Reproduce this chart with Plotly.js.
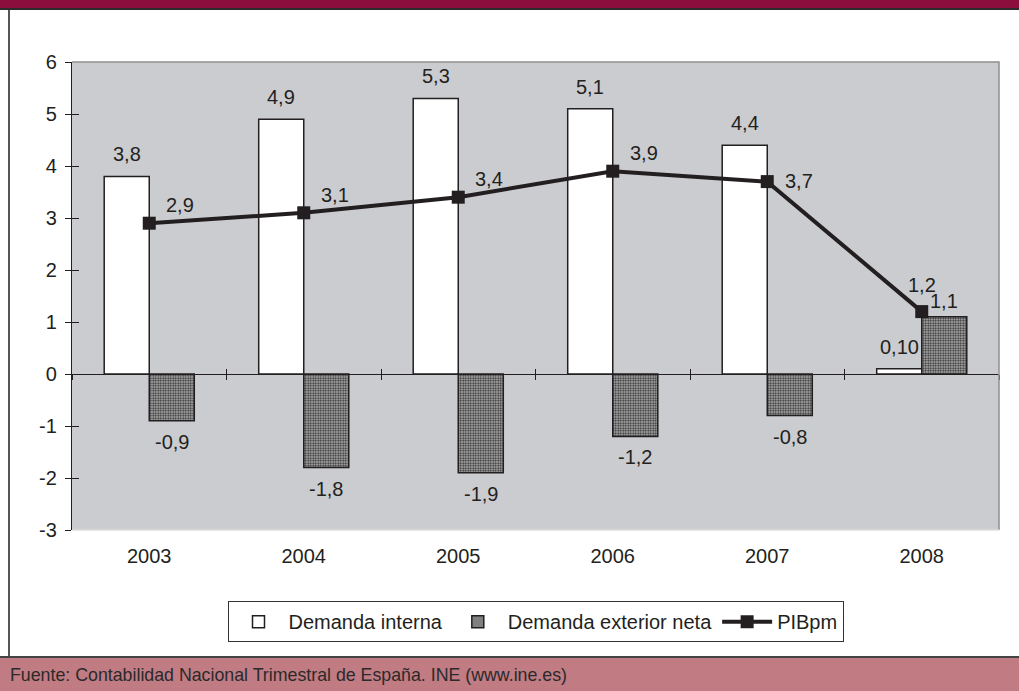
<!DOCTYPE html>
<html>
<head>
<meta charset="utf-8">
<script src="https://cdn.plot.ly/plotly-3.0.1.min.js"></script>
<style>
  html, body { margin: 0; padding: 0; background: #fff; }
  #wrap { position: relative; width: 1019px; height: 691px; overflow: hidden; }
  #chart { position: absolute; left: 0; top: 0; width: 1019px; height: 691px; }
  #topband { position: absolute; left: 0; top: 0; width: 1019px; height: 8px; background: #8c0e3c; border-bottom: 2px solid #2b2b2b; }
  #leftline { position: absolute; left: 8px; top: 10px; width: 2px; height: 647px; background: #555; }
  #footer { position: absolute; left: 0; top: 656px; width: 1019px; height: 35px; background: #c17b83; border-top: 2px solid #444; box-sizing: border-box; }
  #foottext { position: absolute; left: 10px; top: 6px; white-space: nowrap; transform-origin: 0 0;
            font-family: "Liberation Sans", Arial, sans-serif; font-size: 19px; color: #2a2a2a; }
</style>
</head>
<body>
<div id="wrap">
  <div id="chart"></div>
  <div id="topband"></div>
  <div id="leftline"></div>
  <div id="footer"><span id="foottext">Fuente: Contabilidad Nacional Trimestral de España. INE (www.ine.es)</span></div>
</div>
<script>
// ---- data ----
const years = ['2003', '2004', '2005', '2006', '2007', '2008'];
const demandaInterna = [3.8, 4.9, 5.3, 5.1, 4.4, 0.10];
const demandaInternaLabels = ['3,8', '4,9', '5,3', '5,1', '4,4', '0,10'];
const demandaExterior = [-0.9, -1.8, -1.9, -1.2, -0.8, 1.1];
const demandaExteriorLabels = ['-0,9', '-1,8', '-1,9', '-1,2', '-0,8', '1,1'];
const pib = [2.9, 3.1, 3.4, 3.9, 3.7, 1.2];
const pibLabels = ['2,9', '3,1', '3,4', '3,9', '3,7', '1,2'];
const yTicks = [-3, -2, -1, 0, 1, 2, 3, 4, 5, 6];

// ---- styling (label offsets in px) ----
const pibLabelShift = [[31, -18], [31, -18], [31, -18], [31, -18], [32, -1], [0, -27]];
const ink = '#231f20';
const font = 'Liberation Sans';
const barHalf = 22.5;

const traces = [
  {
    type: 'bar', name: 'Demanda interna', x: years, y: demandaInterna,
    marker: { color: '#ffffff', line: { color: ink, width: 1.5 } },
    hoverinfo: 'skip'
  },
  {
    type: 'bar', name: 'Demanda exterior neta', x: years, y: demandaExterior,
    marker: { color: '#333333', line: { color: ink, width: 1.5 },
              pattern: { shape: '.', bgcolor: '#bdbdbd', fgcolor: '#333333', size: 2.5, solidity: 0.5, fillmode: 'replace' } },
    hoverinfo: 'skip'
  },
  {
    type: 'scatter', mode: 'lines+markers', name: 'PIBpm', x: years, y: pib,
    line: { color: ink, width: 4 },
    marker: { symbol: 'square', size: 13, color: ink },
    hoverinfo: 'skip'
  },
  { type: 'scatter', x: [], y: [], xaxis: 'x2', yaxis: 'y', showlegend: false, hoverinfo: 'skip' },
  { type: 'scatter', x: [], y: [], xaxis: 'x3', yaxis: 'y', showlegend: false, hoverinfo: 'skip' },
  { type: 'scatter', x: [], y: [], xaxis: 'x', yaxis: 'y2', showlegend: false, hoverinfo: 'skip' }
];

const annotations = [];
years.forEach((yr, i) => {
  const v1 = demandaInterna[i];
  annotations.push({ x: i, y: v1, xref: 'x', yref: 'y', text: demandaInternaLabels[i], showarrow: false,
    xshift: -barHalf, yshift: v1 >= 0 ? 22 : -22, font: { family: font, size: 20, color: ink } });
  const v2 = demandaExterior[i];
  annotations.push({ x: i, y: v2, xref: 'x', yref: 'y', text: demandaExteriorLabels[i], showarrow: false,
    xshift: barHalf, yshift: v2 >= 0 ? 16 : -21, font: { family: font, size: 20, color: ink } });
  annotations.push({ x: i, y: pib[i], xref: 'x', yref: 'y', text: pibLabels[i], showarrow: false,
    xshift: pibLabelShift[i][0], yshift: -pibLabelShift[i][1], font: { family: font, size: 20, color: ink } });
});

const layout = {
  width: 1019, height: 691,
  margin: { l: 72, r: 20, t: 62, b: 161, pad: 0 },
  paper_bgcolor: 'rgba(0,0,0,0)',
  plot_bgcolor: '#cbcccf',
  barmode: 'group', bargap: 0.417, bargroupgap: 0,
  showlegend: true,
  legend: {
    orientation: 'h', x: 0.5, xanchor: 'center', y: -0.152, yanchor: 'top',
    bordercolor: '#333', borderwidth: 1, bgcolor: '#ffffff',
    font: { family: font, size: 20, color: ink }, itemwidth: 50, tracegroupgap: 0
  },
  xaxis: {
    type: 'category', range: [-0.5, 5.5], showline: false, showgrid: false, zeroline: false,
    ticks: 'outside', ticklen: 8, tickcolor: 'rgba(0,0,0,0)',
    tickfont: { family: font, size: 20, color: ink }, fixedrange: true
  },
  xaxis2: {
    overlaying: 'x', anchor: 'free', position: 1 / 3, range: [-0.5, 5.5],
    tickvals: [-0.5, 0.5, 1.5, 2.5, 3.5, 4.5, 5.5], showticklabels: false,
    ticks: 'outside', ticklen: 5, tickwidth: 1, tickcolor: ink,
    showline: true, linecolor: ink, linewidth: 1, showgrid: false, zeroline: false
  },
  xaxis3: {
    overlaying: 'x', anchor: 'free', position: 1 / 3, side: 'bottom', range: [-0.5, 5.5],
    tickvals: [-0.5, 0.5, 1.5, 2.5, 3.5, 4.5, 5.5], showticklabels: false,
    ticks: 'inside', ticklen: 5, tickwidth: 1, tickcolor: ink,
    showline: false, showgrid: false, zeroline: false
  },
  yaxis: {
    range: [-3, 6], tickvals: yTicks, ticktext: yTicks.map(String),
    showline: true, linecolor: ink, linewidth: 1.2,
    ticks: 'outside', ticklen: 6, tickcolor: ink, tickwidth: 1, ticklabelstandoff: 4,
    showgrid: false, zeroline: false,
    tickfont: { family: font, size: 20, color: ink }, fixedrange: true
  },
  yaxis2: {
    overlaying: 'y', anchor: 'x', range: [-3, 6], tickvals: yTicks, showticklabels: false,
    ticks: 'inside', ticklen: 7, tickcolor: ink, tickwidth: 1,
    showline: false, showgrid: false, zeroline: false
  },
  shapes: [
    { type: 'path', xref: 'paper', yref: 'paper', path: 'M 0 1 L 1 1 L 1 0', line: { color: '#8f8f8f', width: 1.5 } },
    { type: 'line', xref: 'paper', yref: 'paper', x0: 0, x1: 1, y0: 0, y1: 0, line: { color: '#dcdcdc', width: 1.5 } }
  ],
  annotations: annotations
};

Plotly.newPlot('chart', traces, layout, { displayModeBar: false, staticPlot: true });

const ft = document.getElementById('foottext');
const w = ft.getBoundingClientRect().width;
ft.style.transform = 'scaleX(' + (557 / w) + ')';
</script>
</body>
</html>
